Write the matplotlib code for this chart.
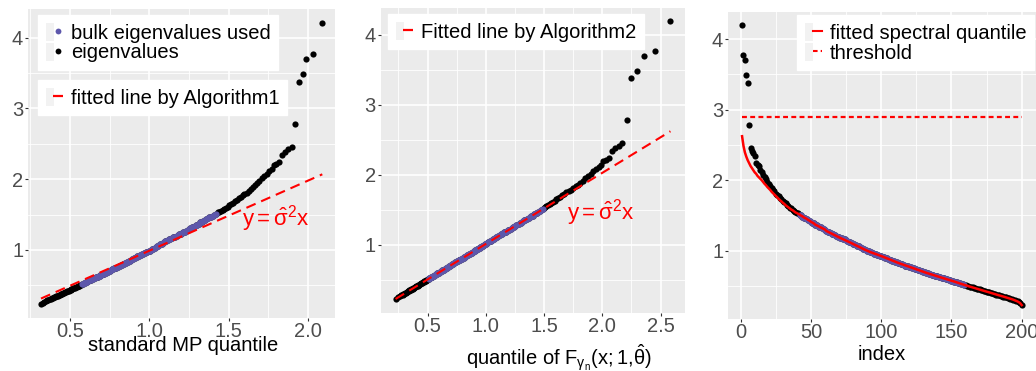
import matplotlib
matplotlib.use('Agg')
import matplotlib.pyplot as plt
from matplotlib.lines import Line2D
from matplotlib.patches import Rectangle
from matplotlib.legend_handler import HandlerTuple
from matplotlib.ticker import MultipleLocator
import numpy as np

plt.rcParams['font.family'] = ['Liberation Sans', 'DejaVu Sans']
plt.rcParams['mathtext.fontset'] = 'custom'
plt.rcParams['mathtext.rm'] = 'Liberation Sans'
plt.rcParams['mathtext.it'] = 'Liberation Sans'
plt.rcParams['mathtext.bf'] = 'Liberation Sans:bold'

# ---------------- data ----------------
# sorted sample eigenvalues (index 1 = largest)
eigenvalues = [
    4.20, 3.77, 3.70, 3.49, 3.38, 2.78, 2.46, 2.42, 2.38, 2.34,
    2.24, 2.22, 2.20, 2.14, 2.11, 2.08, 2.05, 2.01, 1.98, 1.95,
    1.92, 1.89, 1.86, 1.84, 1.81, 1.79, 1.77, 1.75, 1.73, 1.71,
    1.69, 1.67, 1.65, 1.63, 1.61, 1.60, 1.58, 1.57, 1.55, 1.54,
    1.53, 1.51, 1.50, 1.48, 1.47, 1.46, 1.45, 1.44, 1.42, 1.41,
    1.40, 1.39, 1.37, 1.36, 1.35, 1.34, 1.33, 1.32, 1.31, 1.30,
    1.28, 1.27, 1.26, 1.25, 1.24, 1.23, 1.22, 1.21, 1.20, 1.19,
    1.18, 1.18, 1.17, 1.16, 1.15, 1.14, 1.13, 1.12, 1.11, 1.10,
    1.09, 1.08, 1.07, 1.06, 1.05, 1.04, 1.03, 1.02, 1.01, 1.00,
    0.990, 0.985, 0.975, 0.970, 0.960, 0.955, 0.945, 0.940, 0.930, 0.925,
    0.915, 0.910, 0.900, 0.890, 0.885, 0.875, 0.870, 0.860, 0.850, 0.845,
    0.835, 0.830, 0.820, 0.815, 0.805, 0.800, 0.790, 0.785, 0.780, 0.770,
    0.765, 0.755, 0.750, 0.745, 0.740, 0.730, 0.725, 0.715, 0.710, 0.700,
    0.695, 0.690, 0.680, 0.675, 0.665, 0.660, 0.655, 0.648, 0.642, 0.636,
    0.630, 0.624, 0.618, 0.612, 0.606, 0.600, 0.594, 0.588, 0.582, 0.575,
    0.569, 0.562, 0.556, 0.549, 0.543, 0.536, 0.530, 0.523, 0.517, 0.510,
    0.504, 0.498, 0.492, 0.486, 0.480, 0.474, 0.468, 0.462, 0.456, 0.450,
    0.444, 0.438, 0.432, 0.426, 0.420, 0.414, 0.408, 0.402, 0.396, 0.390,
    0.384, 0.378, 0.372, 0.366, 0.360, 0.355, 0.350, 0.344, 0.338, 0.332,
    0.326, 0.320, 0.313, 0.306, 0.298, 0.290, 0.280, 0.268, 0.252, 0.232,
]

# standard MP quantiles paired with the eigenvalues (panel 1 x)
mp_quantile = [
    2.090, 2.030, 1.990, 1.970, 1.940, 1.915, 1.896, 1.873, 1.854, 1.835,
    1.817, 1.800, 1.786, 1.770, 1.754, 1.739, 1.723, 1.708, 1.693, 1.680,
    1.666, 1.653, 1.639, 1.626, 1.613, 1.599, 1.588, 1.576, 1.564, 1.552,
    1.540, 1.528, 1.517, 1.505, 1.494, 1.483, 1.472, 1.462, 1.451, 1.441,
    1.430, 1.419, 1.409, 1.398, 1.389, 1.379, 1.370, 1.360, 1.350, 1.341,
    1.331, 1.322, 1.312, 1.302, 1.293, 1.285, 1.276, 1.267, 1.258, 1.249,
    1.241, 1.232, 1.223, 1.214, 1.205, 1.197, 1.189, 1.181, 1.173, 1.164,
    1.156, 1.148, 1.140, 1.132, 1.124, 1.116, 1.108, 1.100, 1.092, 1.085,
    1.077, 1.070, 1.062, 1.055, 1.047, 1.040, 1.033, 1.025, 1.018, 1.010,
    1.003, 0.995, 0.988, 0.981, 0.974, 0.967, 0.960, 0.953, 0.946, 0.939,
    0.932, 0.925, 0.919, 0.912, 0.905, 0.898, 0.892, 0.885, 0.878, 0.872,
    0.865, 0.859, 0.852, 0.846, 0.839, 0.833, 0.826, 0.820, 0.814, 0.807,
    0.801, 0.795, 0.789, 0.782, 0.776, 0.770, 0.764, 0.758, 0.751, 0.745,
    0.739, 0.733, 0.727, 0.721, 0.715, 0.709, 0.703, 0.697, 0.692, 0.686,
    0.680, 0.674, 0.668, 0.662, 0.656, 0.651, 0.645, 0.639, 0.633, 0.628,
    0.622, 0.616, 0.610, 0.605, 0.599, 0.593, 0.588, 0.582, 0.576, 0.571,
    0.565, 0.559, 0.554, 0.548, 0.542, 0.537, 0.531, 0.526, 0.520, 0.514,
    0.509, 0.503, 0.497, 0.492, 0.486, 0.480, 0.475, 0.469, 0.463, 0.457,
    0.452, 0.446, 0.440, 0.434, 0.428, 0.422, 0.416, 0.410, 0.404, 0.398,
    0.391, 0.385, 0.378, 0.371, 0.364, 0.357, 0.348, 0.339, 0.329, 0.317,
]

# quantiles of the fitted distribution F_{gamma_n}(x;1,theta_hat) (panel 2 x)
fitted_quantile = [
    2.585, 2.450, 2.360, 2.300, 2.250, 2.210, 2.170, 2.140, 2.110, 2.080,
    2.060, 2.030, 2.010, 1.990, 1.970, 1.945, 1.920, 1.900, 1.875, 1.855,
    1.835, 1.810, 1.790, 1.770, 1.750, 1.730, 1.710, 1.690, 1.675, 1.655,
    1.640, 1.620, 1.605, 1.590, 1.575, 1.560, 1.550, 1.535, 1.520, 1.510,
    1.500, 1.490, 1.475, 1.465, 1.450, 1.440, 1.430, 1.415, 1.405, 1.390,
    1.379, 1.369, 1.350, 1.340, 1.330, 1.320, 1.310, 1.300, 1.291, 1.281,
    1.261, 1.251, 1.241, 1.232, 1.222, 1.212, 1.202, 1.192, 1.182, 1.172,
    1.163, 1.154, 1.145, 1.136, 1.127, 1.118, 1.108, 1.099, 1.089, 1.080,
    1.070, 1.060, 1.051, 1.041, 1.032, 1.022, 1.013, 1.003, 0.994, 0.985,
    0.975, 0.968, 0.961, 0.954, 0.947, 0.939, 0.932, 0.925, 0.918, 0.911,
    0.903, 0.895, 0.887, 0.879, 0.871, 0.863, 0.855, 0.847, 0.839, 0.831,
    0.823, 0.816, 0.809, 0.802, 0.795, 0.788, 0.780, 0.773, 0.766, 0.759,
    0.752, 0.745, 0.738, 0.731, 0.724, 0.718, 0.711, 0.704, 0.697, 0.690,
    0.684, 0.677, 0.671, 0.665, 0.658, 0.652, 0.646, 0.640, 0.633, 0.627,
    0.621, 0.615, 0.609, 0.603, 0.597, 0.591, 0.585, 0.579, 0.573, 0.567,
    0.561, 0.554, 0.548, 0.541, 0.535, 0.528, 0.522, 0.515, 0.509, 0.502,
    0.496, 0.490, 0.484, 0.478, 0.472, 0.467, 0.461, 0.455, 0.449, 0.443,
    0.437, 0.431, 0.425, 0.419, 0.414, 0.408, 0.402, 0.396, 0.390, 0.384,
    0.378, 0.372, 0.367, 0.361, 0.355, 0.350, 0.344, 0.338, 0.333, 0.327,
    0.321, 0.315, 0.308, 0.301, 0.293, 0.285, 0.276, 0.265, 0.250, 0.225,
]

bulk_first, bulk_last = 42, 159      # indices of the bulk eigenvalues used
sigma2_alg1 = 0.99                   # slope of fitted line, Algorithm 1
sigma2_alg2 = 1.015                  # slope of fitted line, Algorithm 2
threshold = 2.90

# ---------------- styling ----------------
BLUE = '#5D57AB'
RED = '#FF0000'
FS = 14.5
W, H = 1036, 371

eig = np.array(eigenvalues)
q1 = np.array(mp_quantile)
q2 = np.array(fitted_quantile)
idx = np.arange(1, len(eig) + 1)
bulk = (idx >= bulk_first) & (idx <= bulk_last)

fig = plt.figure(figsize=(W / 100, H / 100), dpi=100)


def px_axes(left, top, right, bottom):
    return fig.add_axes([left / W, 1 - bottom / H, (right - left) / W, (bottom - top) / H])


def style(ax, xmaj, xmin, ymaj=1, ymin=0.5):
    ax.set_facecolor('#EBEBEB')
    for s in ax.spines.values():
        s.set_visible(False)
    ax.set_axisbelow(True)
    ax.xaxis.set_major_locator(MultipleLocator(xmaj))
    ax.xaxis.set_minor_locator(MultipleLocator(xmin))
    ax.yaxis.set_major_locator(MultipleLocator(ymaj))
    ax.yaxis.set_minor_locator(MultipleLocator(ymin))
    ax.grid(which='major', color='white', lw=1.2)
    ax.grid(which='minor', color='white', lw=0.6)
    ax.tick_params(which='major', length=2.2, width=0.8, color='#333333',
                   labelsize=FS, labelcolor='#4D4D4D', pad=1.5)
    ax.tick_params(axis='x', which='major', pad=0.6)
    ax.tick_params(which='minor', length=0)


def legend_box(ax, handles, labels, x, y):
    leg = ax.legend(handles, labels, loc='upper left', bbox_to_anchor=(x, y),
                    bbox_transform=ax.transAxes, borderaxespad=0,
                    fontsize=FS, frameon=True, fancybox=False, framealpha=1,
                    facecolor='white', edgecolor='white',
                    handlelength=0.85, handleheight=1.0, handletextpad=0.4,
                    labelspacing=0.0, borderpad=0.38,
                    handler_map={tuple: HandlerTuple(ndivide=None, pad=0)})
    return leg


def key_bg():
    return Rectangle((0, 0), 1, 1, facecolor='#F2F2F2', edgecolor='none')


PT = dict(s=20, linewidths=0, zorder=3)
DASH = (4.8, 2.9)
ann = r'$\mathregular{y{=}\hat{\sigma}^2x}$'

# ---------------- panel 1 ----------------
ax1 = px_axes(28.3, 9.3, 335, 318.3)
style(ax1, 0.5, 0.25)
ax1.set_xlim(0.237, 2.17)
ax1.set_ylim(0.035, 4.40)
ax1.scatter(q1, eig, color='black', **PT)
ax1.scatter(q1[bulk], eig[bulk], color=BLUE, **PT)
xl = np.array([q1.min(), q1.max()])
ax1.plot(xl, sigma2_alg1 * xl, color=RED, lw=1.5, dashes=DASH, zorder=4)
ax1.text(1.80, 1.45, ann, color=RED, fontsize=FS + 1.5, ha='center', va='center')
ax1.set_xlabel('standard MP quantile', fontsize=FS)
ax1.xaxis.label.set_va('baseline')
ax1.xaxis.set_label_coords(0.5037, -0.106)

h_blue = Line2D([], [], ls='none', marker='o', ms=4.2, mfc=BLUE, mec='none')
h_black = Line2D([], [], ls='none', marker='o', ms=4.2, mfc='black', mec='none')
h_dash = Line2D([], [], ls='none', marker='_', ms=7.2, mew=1.6, color=RED)
leg1 = legend_box(ax1, [(key_bg(), h_blue), (key_bg(), h_black)],
                  ['bulk eigenvalues used', 'eigenvalues'], 0.0316, 0.9816)
ax1.add_artist(leg1)
legend_box(ax1, [(key_bg(), h_dash)], ['fitted line by Algorithm1'], 0.0316, 0.771)

# ---------------- panel 2 ----------------
ax2 = px_axes(381, 8.3, 685, 313.3)
style(ax2, 0.5, 0.25)
ax2.set_xlim(0.10, 2.71)
ax2.set_ylim(0.024, 4.38)
ax2.scatter(q2, eig, color='black', **PT)
ax2.scatter(q2[bulk], eig[bulk], color=BLUE, **PT)
xl2 = np.array([q2.min(), q2.max()])
ax2.plot(xl2, sigma2_alg2 * xl2, color=RED, lw=1.5, dashes=DASH, zorder=4)
ax2.text(1.99, 1.46, ann, color=RED, fontsize=FS + 1.5, ha='center', va='center')
ax2.set_xlabel(r'quantile of $\mathregular{F_{\gamma_n}(x{;}1{,}\hat{\theta})}$', fontsize=FS)
ax2.xaxis.label.set_va('baseline')
ax2.xaxis.set_label_coords(0.5855, -0.1728)
legend_box(ax2, [(key_bg(), h_dash)], ['Fitted line by Algorithm2'], 0.023, 0.981)

# ---------------- panel 3 ----------------
ax3 = px_axes(728.3, 11.7, 1035.7, 319.3)
style(ax3, 50, 25)
ax3.set_xlim(-8.8, 209.95)
ax3.set_ylim(0.027, 4.39)
ax3.scatter(idx, eig, color='black', **PT)
ax3.scatter(idx[bulk], eig[bulk], color=BLUE, **PT)
ax3.plot(idx, sigma2_alg2 * q2, color=RED, lw=1.8, zorder=4)
ax3.plot([idx.min(), idx.max()], [threshold, threshold], color=RED, lw=1.6,
         dashes=(2.2, 1.5), zorder=4)
ax3.set_xlabel('index', fontsize=FS)
ax3.xaxis.label.set_va('baseline')
ax3.xaxis.set_label_coords(0.5, -0.1323)
h_solid = Line2D([], [], color=RED, lw=1.5)
h_thr = Line2D([], [], color=RED, lw=1.5, dashes=(2.2, 1.5))
legend_box(ax3, [(key_bg(), h_solid), (key_bg(), h_thr)],
           ['fitted spectral quantile', 'threshold'], 0.2235, 0.989)

fig.savefig('out.png', dpi=100)
